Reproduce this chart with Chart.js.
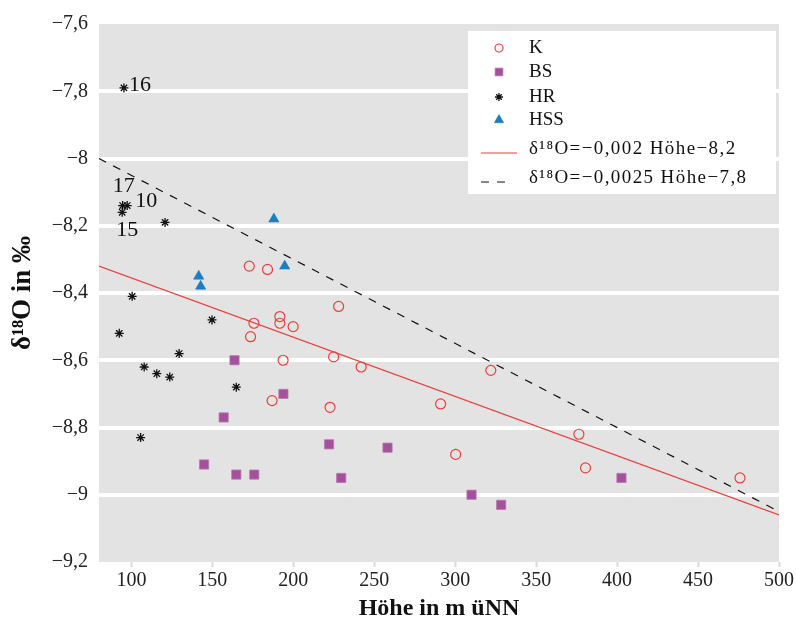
<!DOCTYPE html>
<html>
<head>
<meta charset="utf-8">
<script src="https://cdn.jsdelivr.net/npm/chart.js@4.4.0/dist/chart.umd.min.js"></script>
<style>
  html, body { margin: 0; padding: 0; background: #fff; }
  #wrap { width: 796px; height: 623px; }
</style>
</head>
<body>
<div id="wrap"><canvas id="chart" width="796" height="623"></canvas></div>
<script>
// values (Höhe in m üNN, δ18O in ‰)
const kHoehe = [172.8, 184.1, 175.7, 173.6, 191.7, 191.7, 199.9, 193.7, 186.9, 228.0, 224.9, 241.9, 222.7, 291.0, 322.0, 300.3, 376.4, 380.5, 475.9];
const kO18   = [-8.32, -8.33, -8.49, -8.53, -8.47, -8.49, -8.50, -8.60, -8.72, -8.44, -8.59, -8.62, -8.74, -8.73, -8.63, -8.88, -8.82, -8.92, -8.95];

const bsHoehe = [163.7, 193.9, 157.0, 144.9, 164.8, 175.9, 222.1, 258.2, 229.6, 310.1, 328.4, 402.7];
const bsO18   = [-8.60, -8.70, -8.77, -8.91, -8.94, -8.94, -8.85, -8.86, -8.95, -9.00, -9.03, -8.95];

const hrHoehe = [95.4, 94.6, 97.4, 94.3, 120.8, 100.5, 92.5, 149.8, 129.5, 107.9, 115.7, 123.7, 164.8, 105.7];
const hrO18   = [-7.79, -8.14, -8.14, -8.16, -8.19, -8.41, -8.52, -8.48, -8.58, -8.62, -8.64, -8.65, -8.68, -8.83];
const hrLabels = ['16', '17', '10', '15', '', '', '', '', '', '', '', '', '', ''];

const hssHoehe = [188.0, 141.6, 142.8, 194.7];
const hssO18   = [-8.18, -8.35, -8.38, -8.32];

// regression lines (end points as drawn)
const fit1Hoehe = [80, 500];
const fit1O18   = [-8.32, -9.06];
const fit2Hoehe = [80, 500];
const fit2O18   = [-8.0, -9.05];

const xTicks = [100, 150, 200, 250, 300, 350, 400, 450, 500];
const yTicks = [-7.6, -7.8, -8, -8.2, -8.4, -8.6, -8.8, -9, -9.2];

const legendLabels = ['K', 'BS', 'HR', 'HSS', 'δ¹⁸O=−0,002 Höhe−8,2', 'δ¹⁸O=−0,0025 Höhe−7,8'];

const RED = '#e8413c';
const PURPLE = '#a4509c';
const BLUE = '#1b7dc2';
const FONT = '"Liberation Serif", "Times New Roman", serif';

const pts = (xs, ys) => xs.map((x, i) => ({ x: x, y: ys[i] }));
const fmt = v => String(Math.round(v * 10) / 10).replace('-', '−').replace('.', ',');

const bgPlugin = {
  id: 'bg',
  beforeDraw(chart) {
    const a = chart.chartArea, ctx = chart.ctx;
    ctx.save();
    ctx.fillStyle = '#e3e3e3';
    ctx.fillRect(a.left, a.top, a.right - a.left, a.bottom - a.top);
    ctx.restore();
  }
};

// number labels next to some HR points
const pointLabels = {
  id: 'pointLabels',
  afterDatasetsDraw(chart) {
    const ctx = chart.ctx;
    const meta = chart.getDatasetMeta(2);
    const offs = { '16': [5, -3, 'left'], '17': [1, -19, 'center'], '10': [8, -4, 'left'], '15': [5, 18, 'center'] };
    ctx.save();
    ctx.font = '22px ' + FONT;
    ctx.fillStyle = '#111';
    ctx.textBaseline = 'middle';
    hrLabels.forEach((t, i) => {
      if (!t) return;
      const p = meta.data[i];
      const o = offs[t];
      ctx.textAlign = o[2];
      ctx.fillText(t, p.x + o[0], p.y + o[1]);
    });
    ctx.restore();
  }
};

// legend box inside the plot
const boxLegend = {
  id: 'boxLegend',
  afterDraw(chart) {
    const ctx = chart.ctx;
    const bx = 468, by = 31, bw = 308, bh = 163;
    const mx = 499, tx = 529;
    const rows = [48, 72, 97, 120, 149, 178];
    ctx.save();
    ctx.fillStyle = '#fff';
    ctx.fillRect(bx, by, bw, bh);
    const ds = chart.data.datasets;
    rows.forEach((y, i) => {
      const d = ds[i];
      if (d.type === 'line') {
        ctx.strokeStyle = d.borderColor;
        ctx.lineWidth = 1.2;
        ctx.setLineDash(d.borderDash || []);
        ctx.beginPath();
        ctx.moveTo(481, y + 4);
        ctx.lineTo(d.borderDash ? 507 : 517, y + 4);
        ctx.stroke();
        ctx.setLineDash([]);
      } else {
        ctx.fillStyle = d.backgroundColor;
        ctx.strokeStyle = d.borderColor;
        ctx.lineWidth = d.borderWidth;
        Chart.helpers.drawPoint(ctx, { pointStyle: d.pointStyle, radius: d.legendRadius, borderWidth: d.borderWidth, rotation: 0 }, mx, y);
      }
      ctx.font = '19px ' + FONT;
      ctx.letterSpacing = i > 3 ? '1.4px' : '0px';
      ctx.fillStyle = '#111';
      ctx.textAlign = 'left';
      ctx.textBaseline = 'middle';
      ctx.fillText(legendLabels[i], tx, y);
    });
    ctx.restore();
  }
};

new Chart(document.getElementById('chart').getContext('2d'), {
  data: {
    datasets: [
      { type: 'scatter', label: 'K', data: pts(kHoehe, kO18), pointStyle: 'circle', pointRadius: 5, legendRadius: 4,
        backgroundColor: 'rgba(0,0,0,0)', borderColor: RED, borderWidth: 1.2 },
      { type: 'scatter', label: 'BS', data: pts(bsHoehe, bsO18), pointStyle: 'rect', pointRadius: 6.5, legendRadius: 5.5,
        backgroundColor: PURPLE, borderColor: '#b777ae', borderWidth: 0.8 },
      { type: 'scatter', label: 'HR', data: pts(hrHoehe, hrO18), pointStyle: 'star', pointRadius: 4.5, legendRadius: 4,
        backgroundColor: '#111', borderColor: '#111', borderWidth: 1.3 },
      { type: 'scatter', label: 'HSS', data: pts(hssHoehe, hssO18), pointStyle: 'triangle', pointRadius: 6, legendRadius: 5.5,
        backgroundColor: BLUE, borderColor: BLUE, borderWidth: 0.5 },
      { type: 'line', label: 'fit1', data: pts(fit1Hoehe, fit1O18), borderColor: RED, borderWidth: 1.2, pointRadius: 0 },
      { type: 'line', label: 'fit2', data: pts(fit2Hoehe, fit2O18), borderColor: '#111', borderWidth: 1.2,
        borderDash: [8, 8], pointRadius: 0 }
    ]
  },
  options: {
    responsive: false,
    animation: false,
    layout: { padding: { top: 24, right: 15, left: 0, bottom: 0 } },
    plugins: {
      legend: { display: false },
      tooltip: { enabled: false }
    },
    scales: {
      x: {
        type: 'linear',
        min: 80,
        max: 500,
        afterBuildTicks: s => { s.ticks = xTicks.map(v => ({ value: v })); },
        afterFit: s => { s.height = 61; },
        border: { display: false },
        grid: { drawOnChartArea: false, drawTicks: true, tickLength: 5, tickColor: '#dadada', tickWidth: 2 },
        ticks: { font: { family: FONT, size: 20 }, color: '#222', padding: 2, maxRotation: 0,
                 callback: v => fmt(v) },
        title: { display: true, text: 'Höhe in m üNN', color: '#111', padding: { top: 0, bottom: 0 },
                 font: { family: FONT, size: 24, weight: 'bold' } }
      },
      y: {
        type: 'linear',
        min: -9.2,
        max: -7.6,
        afterBuildTicks: s => { s.ticks = yTicks.map(v => ({ value: v })); },
        afterFit: s => { s.width = 99; },
        border: { display: false },
        grid: {
          drawTicks: false,
          lineWidth: 4,
          color: c => (c.tick && (c.tick.value === -7.6 || c.tick.value === -9.2)) ? 'rgba(0,0,0,0)' : '#ffffff'
        },
        ticks: { font: { family: FONT, size: 20 }, color: '#222', padding: 11,
                 callback: v => fmt(v) },
        title: { display: true, text: 'δ¹⁸O in ‰', color: '#111', padding: { top: 7, bottom: 0 },
                 font: { family: FONT, size: 27, weight: 'bold' } }
      }
    }
  },
  plugins: [bgPlugin, pointLabels, boxLegend]
});
</script>
</body>
</html>
